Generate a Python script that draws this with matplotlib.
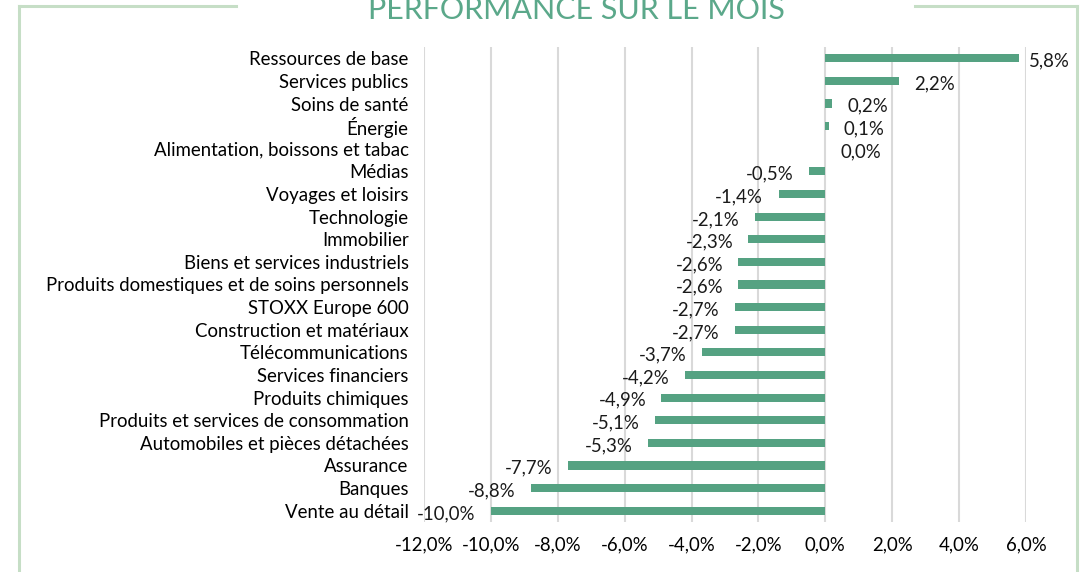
import matplotlib.pyplot as plt
from matplotlib.lines import Line2D
import numpy as np

# Data (top to bottom as shown)
sectors = ["Ressources de base", "Services publics", "Soins de santé", "Énergie",
           "Alimentation, boissons et tabac", "Médias", "Voyages et loisirs", "Technologie",
           "Immobilier", "Biens et services industriels",
           "Produits domestiques et de soins personnels", "STOXX Europe 600",
           "Construction et matériaux", "Télécommunications", "Services financiers",
           "Produits chimiques", "Produits et services de consommation",
           "Automobiles et pièces détachées", "Assurance", "Banques", "Vente au détail"]
perf = [5.8, 2.2, 0.2, 0.1, 0.0, -0.5, -1.4, -2.1, -2.3, -2.6, -2.6, -2.7, -2.7,
        -3.7, -4.2, -4.9, -5.1, -5.3, -7.7, -8.8, -10.0]
x_ticks = [-12, -10, -8, -6, -4, -2, 0, 2, 4, 6]

bar_color = "#55A282"
frame_color = "#C6DEC6"
title_color = "#5BA88A"
fs = 13.4

plt.rcParams['font.family'] = ['Lato', 'DejaVu Sans']


def fmt(v):
    return f"{v:.1f}%".replace(".", ",")


def main():
    fig = plt.figure(figsize=(10.8, 5.72), dpi=100)
    ax = fig.add_axes([424 / 1080, 1 - 522 / 572, (1026 - 424) / 1080, 475 / 572])

    y = np.arange(len(sectors))
    ax.barh(y, perf, height=0.36, color=bar_color, zorder=3)
    ax.set_ylim(len(sectors) - 0.5, -0.5)
    ax.set_xlim(-12, 6)
    ax.set_yticks(y)
    ax.set_yticklabels(sectors, fontsize=fs)
    ax.set_xticks(x_ticks)
    ax.set_xticklabels([fmt(t) for t in x_ticks], fontsize=fs)
    ax.tick_params(axis='y', length=0, pad=11)
    ax.tick_params(axis='x', length=0, pad=10)
    ax.grid(axis='x', color="#D9D9D9", linewidth=1.5, zorder=0)
    for s in ax.spines.values():
        s.set_visible(False)

    # Data labels
    for yi, v in zip(y, perf):
        if v >= 0:
            ax.annotate(fmt(v), (v, yi), xytext=(7 if v > 5 else 11, -2), textcoords='offset points',
                        ha='left', va='center', fontsize=fs, color="#1a1a1a")
        else:
            ax.annotate(fmt(v), (v, yi), xytext=(-11, -2), textcoords='offset points',
                        ha='right', va='center', fontsize=fs, color="#1a1a1a")

    # Title and frame
    fig.text(576 / 1080, 1 - 19 / 572, "PERFORMANCE SUR LE MOIS", ha='center', va='baseline',
             fontsize=22, color=title_color)
    lw = 2.2
    top = 1 - 6 / 572
    xl, xr = 19 / 1080, 1077 / 1080
    fig.add_artist(Line2D([xl, xl], [0, top], transform=fig.transFigure, color=frame_color, lw=lw))
    fig.add_artist(Line2D([xr, xr], [0, top], transform=fig.transFigure, color=frame_color, lw=lw))
    fig.add_artist(Line2D([xl, 236 / 1080], [top, top], transform=fig.transFigure, color=frame_color, lw=lw))
    fig.add_artist(Line2D([915 / 1080, xr], [top, top], transform=fig.transFigure, color=frame_color, lw=lw))

    fig.savefig("out.png", dpi=100)


if __name__ == '__main__':
    main()
